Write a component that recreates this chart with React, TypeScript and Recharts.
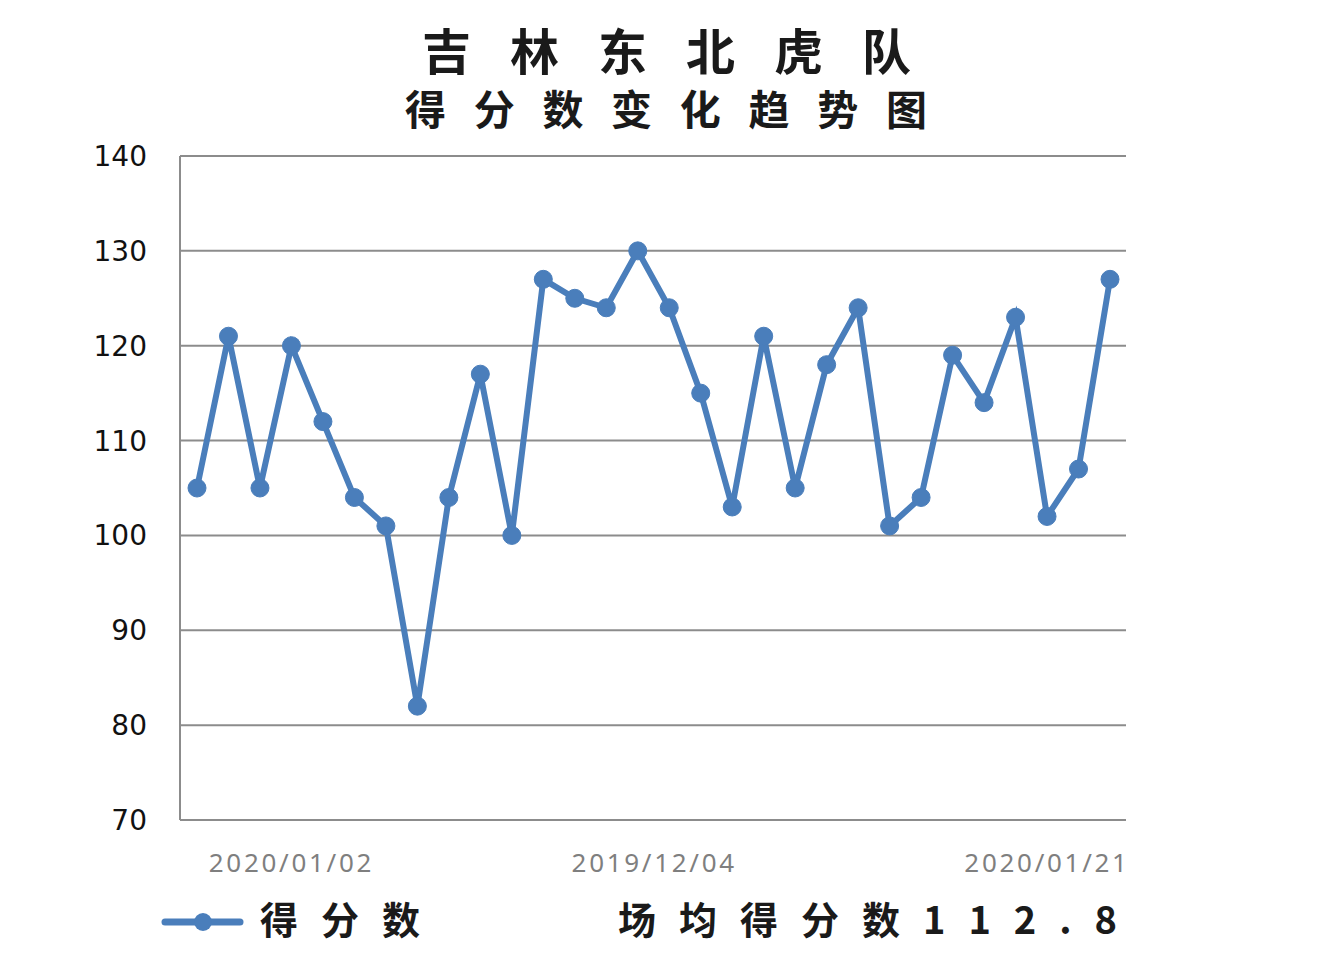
import { LineChart, Line, XAxis, YAxis, CartesianGrid } from 'recharts'

// points scored per game, in the order shown
const scores = [
  105, 121, 105, 120, 112, 104, 101, 82, 104, 117,
  100, 127, 125, 124, 130, 124, 115, 103, 121, 105,
  118, 124, 101, 104, 119, 114, 123, 102, 107, 127,
]
const dateTickIndexes = [3, 15, 27]
const dateTickLabels = ['2020/01/02', '2019/12/04', '2020/01/21']
const yTicks = [70, 80, 90, 100, 110, 120, 130, 140]

const title = '吉林东北虎队'
const subtitle = '得分数变化趋势图'
const seriesName = '得分数'
const averageLabel = '场均得分数'

const BLUE = '#4a7ebb'
const GRID = '#8c8c8c'
const CJK = '"Noto Sans CJK SC", "Noto Sans", sans-serif'

const chartData = scores.map((score, idx) => ({ idx, score }))
const average = (scores.reduce((a, b) => a + b, 0) / scores.length).toFixed(1)

function DateTick(props: any) {
  const { x, y, payload, index } = props
  const pos = dateTickIndexes.indexOf(payload.value)
  // the middle label sits a little left of its point in the original
  const shift = index === 1 ? -15 : 0
  return (
    <text
      x={x + shift}
      y={y + 52}
      textAnchor="middle"
      fill="#7f7f7f"
      fontSize={26}
      letterSpacing={2.7}
      fontFamily='"Noto Sans", sans-serif'
    >
      {dateTickLabels[pos]}
    </text>
  )
}

export default function App() {
  return (
    <div style={{ position: 'absolute', left: 0, top: 0, width: 1336, height: 975, background: '#fff' }}>
      <LineChart
        width={1336}
        height={975}
        data={chartData}
        margin={{ top: 156, right: 210, left: 80, bottom: 115 }}
      >
        <CartesianGrid vertical={false} stroke={GRID} strokeWidth={2} />
        <XAxis
          dataKey="idx"
          type="category"
          ticks={dateTickIndexes}
          interval={0}
          padding={{ left: 17, right: 16 }}
          tick={<DateTick />}
          tickLine={false}
          tickSize={0}
          tickMargin={0}
          axisLine={{ stroke: GRID, strokeWidth: 2 }}
          height={40}
        />
        <YAxis
          domain={[70, 140]}
          ticks={yTicks}
          width={100}
          tickLine={false}
          tickSize={0}
          tickMargin={33}
          axisLine={{ stroke: GRID, strokeWidth: 2 }}
          tick={{ fill: '#111', fontSize: 28, fontFamily: '"DejaVu Sans", sans-serif' }}
        />
        <Line
          type="linear"
          dataKey="score"
          stroke={BLUE}
          strokeWidth={6}
          dot={{ r: 9, fill: BLUE, stroke: BLUE, strokeWidth: 1 }}
          isAnimationActive={false}
        />
      </LineChart>

      <svg
        width={1336}
        height={975}
        style={{ position: 'absolute', left: 0, top: 0, pointerEvents: 'none' }}
      >
        <text x={422} y={70} fontSize={49} fontWeight="bold" letterSpacing={39} fontFamily={CJK} fill="#1a1a1a">
          {title}
        </text>
        <text x={405} y={125} fontSize={41} fontWeight="bold" letterSpacing={27.7} fontFamily={CJK} fill="#1a1a1a">
          {subtitle}
        </text>

        <line x1={165} y1={922} x2={240} y2={922} stroke={BLUE} strokeWidth={7} strokeLinecap="round" />
        <circle cx={203} cy={922} r={9} fill={BLUE} />
        <text x={260} y={934} fontSize={38} fontWeight="bold" letterSpacing={23} fontFamily={CJK} fill="#1a1a1a">
          {seriesName}
        </text>
        <text x={618} y={934} fontSize={38} fontWeight="bold" letterSpacing={23} fontFamily={CJK} fill="#1a1a1a">
          {averageLabel + average}
        </text>
      </svg>
    </div>
  )
}
